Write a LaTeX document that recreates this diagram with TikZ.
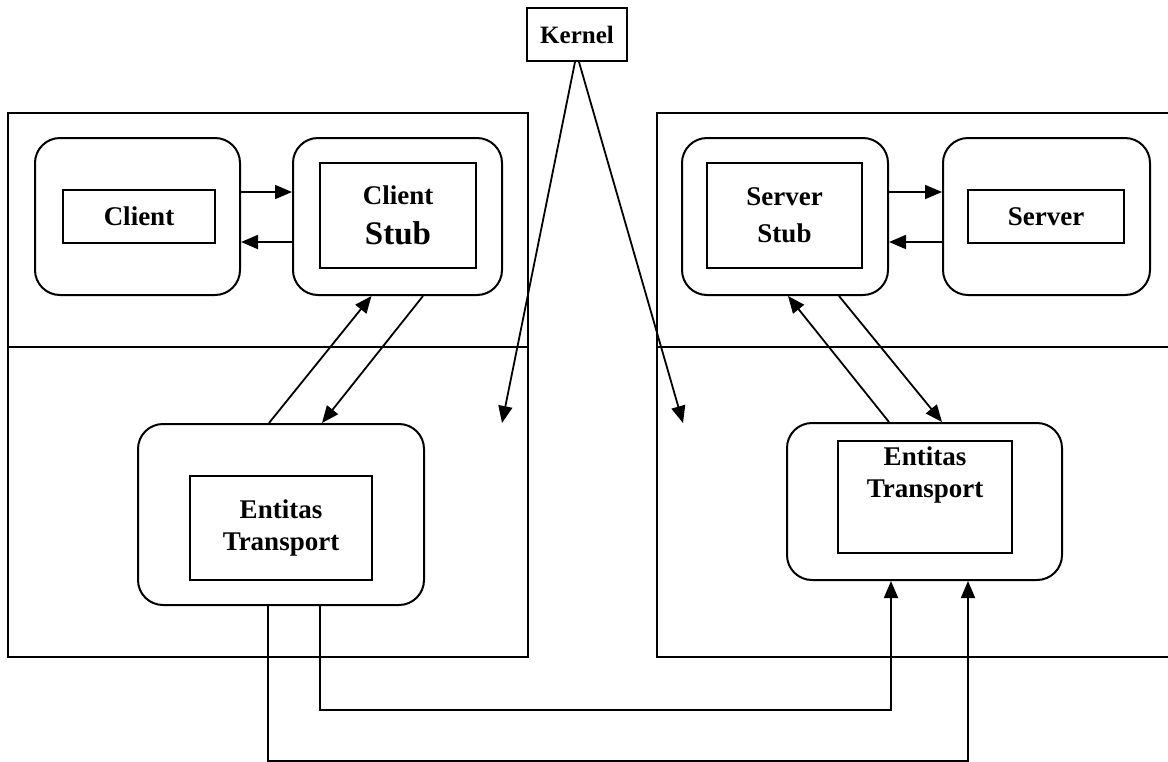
\documentclass[tikz,border=0pt]{standalone}
\usepackage{fontspec}
\setmainfont{Liberation Serif}
\usetikzlibrary{arrows.meta}
\begin{document}
\begin{tikzpicture}[x=1pt,y=-1pt,
  outer/.style={draw, line width=1.8pt},
  rbox/.style={draw, line width=2pt, rounded corners=25pt, inner sep=0pt},
  ibox/.style={draw, line width=2pt, inner sep=0pt, align=center,
    font=\bfseries\fontsize{27}{32}\selectfont},
  arr/.style={line width=1.8pt, -{Triangle[length=17pt,width=14pt]}},
  ln/.style={line width=1.8pt}]
\clip (0,0) rectangle (1168,761);
% outer boxes
\draw[outer] (8,113) rectangle (528,657);
\draw[outer] (8,347) -- (528,347);
\draw[outer] (657,113) rectangle (1200,657);
\draw[outer] (657,347) -- (1200,347);
% kernel
\node[ibox, font=\bfseries\fontsize{25}{30}\selectfont, minimum width=100, minimum height=53] (kernel) at (577,34.5) {Kernel};
% client side
\node[rbox, minimum width=205, minimum height=157] (client) at (137.5,216.5) {};
\node[ibox, minimum width=152, minimum height=53] (clienti) at (139,216.5) {Client};
\node[rbox, minimum width=209, minimum height=157] (cstub) at (397.5,216.5) {};
\node[ibox, minimum width=156, minimum height=105] (cstubi) at (398,215.5) {Client\\[8pt]{\fontsize{33}{36}\selectfont Stub}};
% server side
\node[rbox, minimum width=206, minimum height=157] (sstub) at (785,216.5) {};
\node[ibox, minimum width=155, minimum height=105] (sstubi) at (784.5,215.5) {Server\\[5pt]Stub};
\node[rbox, minimum width=207, minimum height=157] (server) at (1046.5,216.5) {};
\node[ibox, minimum width=156, minimum height=53] (serveri) at (1046,216.5) {Server};
% transport entities
\node[rbox, minimum width=286, minimum height=181] (ent1) at (281,514.5) {};
\node[ibox, minimum width=182, minimum height=104] (ent1i) at (281,528) {Entitas\\Transport};
\node[rbox, minimum width=275, minimum height=157] (ent2) at (924.5,501.5) {};
\node[ibox, minimum width=174, minimum height=112, text depth=50pt] (ent2i) at (925,497) {Entitas\\Transport};
% helper coordinates
\coordinate (yA) at (0,192);
\coordinate (yB) at (0,242);
\coordinate (kl) at (502,423);
\coordinate (kr) at (683,423);
% kernel arrows
\draw[arr] ([xshift=-2pt]kernel.south) -- (kl);
\draw[arr] ([xshift=2pt]kernel.south) -- (kr);
% client <-> client stub
\draw[arr] (client.east |- yA) -- (cstub.west |- yA);
\draw[arr] (cstub.west |- yB) -- (client.east |- yB);
% server stub <-> server
\draw[arr] (sstub.east |- yA) -- (server.west |- yA);
\draw[arr] (server.west |- yB) -- (sstub.east |- yB);
% stubs <-> transport
\draw[arr] ([xshift=-12pt]ent1.north) -- ([xshift=-26pt]cstub.south);
\draw[arr] ([xshift=25.5pt]cstub.south) -- ([xshift=41pt]ent1.north);
\draw[arr] ([xshift=-35.5pt]ent2.north) -- ([xshift=3pt]sstub.south);
\draw[arr] ([xshift=54pt]sstub.south) -- ([xshift=17.5pt]ent2.north);
% transport <-> transport
\draw[arr] ([xshift=39pt]ent1.south) -- ++(0,104) -| ([xshift=-33.5pt]ent2.south);
\draw[arr] ([xshift=-13pt]ent1.south) -- ++(0,155) -| ([xshift=43.5pt]ent2.south);
\end{tikzpicture}
\end{document}
